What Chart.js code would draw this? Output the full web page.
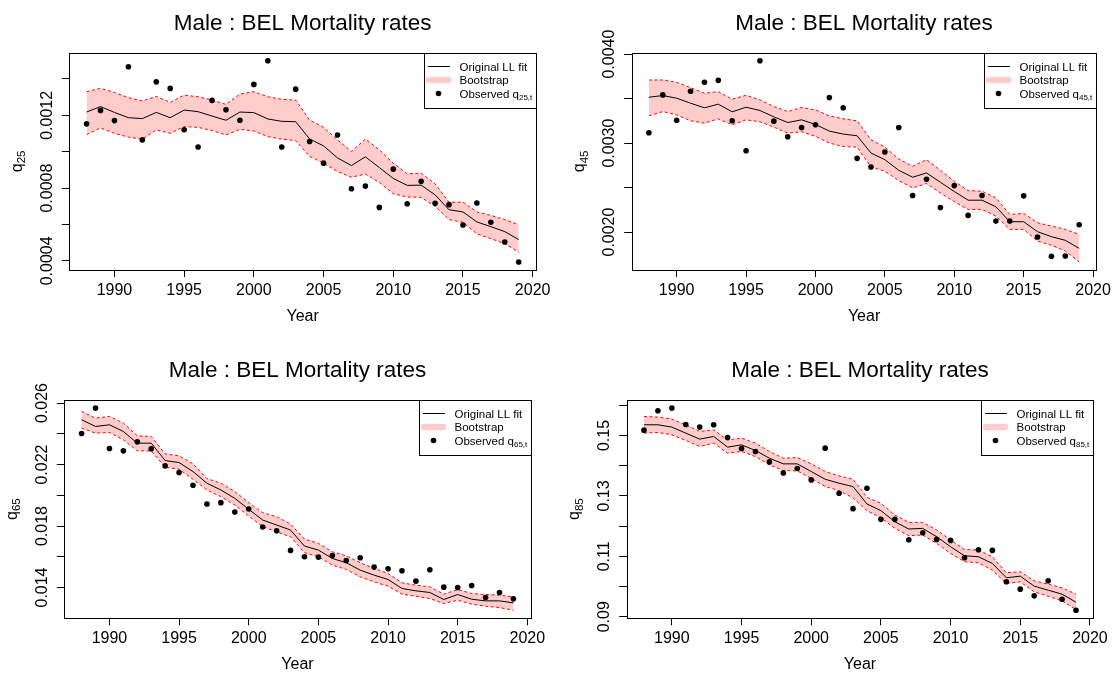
<!DOCTYPE html>
<html>
<head>
<meta charset="utf-8">
<title>Male : BEL Mortality rates</title>
<script src="https://cdn.jsdelivr.net/npm/chart.js@4.4.1/dist/chart.umd.min.js"></script>
<style>
  html, body { margin: 0; padding: 0; background: #fff; overflow: hidden; }
  #wrap { position: relative; width: 1115px; height: 673px; }
  #wrap canvas { position: absolute; }
</style>
</head>
<body>
<div id="wrap">
  <canvas id="c25" width="557" height="336" style="left:0;top:0"></canvas>
  <canvas id="c45" width="558" height="336" style="left:557px;top:0"></canvas>
  <canvas id="c65" width="557" height="337" style="left:0;top:336px"></canvas>
  <canvas id="c85" width="558" height="337" style="left:557px;top:336px"></canvas>
</div>
<script>
const FONT = '"Liberation Sans", Arial, Helvetica, sans-serif';

const years = [1988, 1989, 1990, 1991, 1992, 1993, 1994, 1995, 1996, 1997, 1998, 1999, 2000, 2001, 2002, 2003,
               2004, 2005, 2006, 2007, 2008, 2009, 2010, 2011, 2012, 2013, 2014, 2015, 2016, 2017, 2018, 2019];
const xTicks = [1990, 1995, 2000, 2005, 2010, 2015, 2020];

// age 25
const obs25 = [0.001153, 0.001227, 0.001171, 0.001467, 0.001065, 0.001384, 0.001348, 0.001121, 0.001026, 0.001282, 0.001231, 0.001173, 0.00137, 0.0015, 0.001026, 0.001344,
               0.001056, 0.000937, 0.001092, 0.000796, 0.000811, 0.000694, 0.000904, 0.000714, 0.000837, 0.000716, 0.000709, 0.000597, 0.000718, 0.000612, 0.000504, 0.000394];
const fit25 = [0.001218, 0.001248, 0.001216, 0.001187, 0.001182, 0.001216, 0.001187, 0.001229, 0.00122, 0.001196, 0.001173, 0.001218, 0.001215, 0.00118, 0.001167, 0.001165,
               0.00107, 0.001032, 0.000966, 0.000924, 0.000972, 0.000913, 0.000853, 0.000815, 0.000816, 0.000763, 0.000681, 0.000669, 0.000614, 0.000588, 0.000561, 0.000517];
const up25 = [0.00133, 0.001348, 0.001326, 0.001297, 0.001279, 0.001304, 0.001271, 0.001311, 0.001302, 0.001284, 0.00126, 0.001317, 0.00133, 0.001302, 0.001288, 0.001284,
              0.001174, 0.001134, 0.001065, 0.001001, 0.00107, 0.00101, 0.000937, 0.000879, 0.000882, 0.000824, 0.000722, 0.000723, 0.000669, 0.00065, 0.000627, 0.000599];
const lo25 = [0.001094, 0.001131, 0.001101, 0.00108, 0.001069, 0.00112, 0.001101, 0.001138, 0.001134, 0.001116, 0.001092, 0.001123, 0.001114, 0.001083, 0.001069, 0.001061,
              0.000974, 0.000937, 0.000891, 0.00086, 0.000877, 0.000831, 0.000769, 0.000751, 0.000749, 0.0007, 0.000627, 0.000612, 0.000548, 0.000522, 0.000495, 0.000448];
const yTicks25 = [0.0004, 0.0006, 0.0008, 0.0010, 0.0012, 0.0014];
const yLabels25 = ['0.0004', '', '0.0008', '', '0.0012', ''];

// age 45
const obs45 = [0.003116, 0.003541, 0.003257, 0.003582, 0.003683, 0.003705, 0.00325, 0.002914, 0.003925, 0.003246, 0.003071, 0.003175, 0.003205, 0.003511, 0.003396, 0.002828,
               0.002731, 0.002899, 0.003175, 0.00241, 0.002593, 0.002276, 0.002522, 0.002187, 0.00241, 0.002123, 0.002123, 0.002407, 0.001944, 0.001728, 0.001731, 0.002082];
const fit45 = [0.003515, 0.003534, 0.003504, 0.003448, 0.003396, 0.003437, 0.003351, 0.003403, 0.003366, 0.003295, 0.003231, 0.003261, 0.003209, 0.003134, 0.003101, 0.003082,
               0.002888, 0.002813, 0.002694, 0.002616, 0.002664, 0.00256, 0.002455, 0.002358, 0.002358, 0.002284, 0.002116, 0.002116, 0.002004, 0.001948, 0.001907, 0.001817];
const up45 = [0.003709, 0.003709, 0.003683, 0.003623, 0.00356, 0.003578, 0.003493, 0.003537, 0.003485, 0.00341, 0.003354, 0.003399, 0.003373, 0.003306, 0.003272, 0.00325,
              0.003037, 0.002955, 0.002821, 0.002739, 0.002813, 0.002694, 0.002571, 0.002466, 0.002459, 0.002384, 0.002198, 0.002209, 0.002104, 0.002067, 0.00203, 0.001974];
const lo45 = [0.003306, 0.003354, 0.003317, 0.00325, 0.003224, 0.003272, 0.003205, 0.003261, 0.003239, 0.003179, 0.003112, 0.003127, 0.003075, 0.003, 0.00296, 0.002955,
              0.002731, 0.002683, 0.002578, 0.002496, 0.002545, 0.00244, 0.00234, 0.002254, 0.002254, 0.002179, 0.00203, 0.00203, 0.001899, 0.001851, 0.001787, 0.001664];
const yTicks45 = [0.0020, 0.0025, 0.0030, 0.0035, 0.0040];
const yLabels45 = ['0.0020', '', '0.0030', '', '0.0040'];

// age 65
const obs65 = [0.024022, 0.025674, 0.023043, 0.022891, 0.023478, 0.023022, 0.021913, 0.021478, 0.020652, 0.019435, 0.019522, 0.018913, 0.019109, 0.017935, 0.017696, 0.016413,
               0.016, 0.015978, 0.016087, 0.015761, 0.015935, 0.015326, 0.015217, 0.015087, 0.014413, 0.015152, 0.014022, 0.014, 0.01413, 0.013348, 0.013674, 0.013261];
const fit65 = [0.024913, 0.024478, 0.024587, 0.024152, 0.023391, 0.023391, 0.022261, 0.02213, 0.021543, 0.020783, 0.020348, 0.019804, 0.019087, 0.018391, 0.018065, 0.017739,
               0.016696, 0.016435, 0.015891, 0.015609, 0.01513, 0.014804, 0.014522, 0.013935, 0.013783, 0.013674, 0.013217, 0.013543, 0.013239, 0.01313, 0.01313, 0.013];
const up65 = [0.025457, 0.025022, 0.02513, 0.024696, 0.02387, 0.023826, 0.022696, 0.022565, 0.022043, 0.021087, 0.020783, 0.020239, 0.019522, 0.01887, 0.018609, 0.01813,
              0.017152, 0.01687, 0.016326, 0.016065, 0.015609, 0.015239, 0.014913, 0.014304, 0.014152, 0.014043, 0.013565, 0.01387, 0.013609, 0.013543, 0.0135, 0.013391];
const lo65 = [0.02437, 0.024043, 0.024087, 0.023609, 0.022891, 0.022891, 0.021826, 0.021696, 0.021043, 0.020348, 0.019913, 0.01937, 0.018652, 0.017957, 0.01763, 0.017304,
              0.016261, 0.016, 0.015457, 0.015174, 0.014696, 0.01437, 0.014087, 0.013565, 0.013435, 0.013283, 0.012957, 0.013174, 0.012913, 0.012783, 0.012696, 0.012522];
const yTicks65 = [0.014, 0.016, 0.018, 0.020, 0.022, 0.024, 0.026];
const yLabels65 = ['0.014', '', '0.018', '', '0.022', '', '0.026'];

// age 85
const obs85 = [0.15179, 0.15821, 0.15909, 0.15367, 0.15279, 0.15356, 0.14936, 0.14571, 0.14471, 0.14128, 0.13763, 0.13907, 0.13531, 0.14582, 0.13088, 0.1258,
               0.13254, 0.12226, 0.12226, 0.11551, 0.11783, 0.11562, 0.11529, 0.10954, 0.11219, 0.11197, 0.10157, 0.09914, 0.09692, 0.1019, 0.09582, 0.09217];
const fit85 = [0.15356, 0.15356, 0.15279, 0.1508, 0.14881, 0.14969, 0.14615, 0.14692, 0.14504, 0.1425, 0.14062, 0.14062, 0.13808, 0.13553, 0.1342, 0.1331,
               0.12735, 0.12513, 0.12148, 0.11905, 0.11927, 0.1165, 0.11319, 0.1102, 0.10987, 0.10765, 0.1029, 0.10345, 0.10013, 0.09881, 0.09748, 0.09482];
const up85 = [0.15633, 0.15611, 0.15544, 0.15356, 0.15135, 0.1519, 0.14858, 0.14914, 0.14748, 0.14471, 0.1425, 0.14272, 0.14062, 0.13808, 0.13664, 0.13553,
              0.12956, 0.12757, 0.12369, 0.12126, 0.12126, 0.11872, 0.1154, 0.1123, 0.11208, 0.10987, 0.10456, 0.10489, 0.1019, 0.1008, 0.09958, 0.09748];
const lo85 = [0.1508, 0.15102, 0.15024, 0.14836, 0.14637, 0.14748, 0.14416, 0.14471, 0.14305, 0.14029, 0.13841, 0.1383, 0.13586, 0.1331, 0.13177, 0.12934,
              0.12513, 0.12281, 0.11927, 0.11684, 0.11706, 0.11429, 0.11097, 0.10821, 0.10788, 0.10544, 0.10102, 0.10157, 0.09825, 0.09681, 0.09527, 0.09239];
const yTicks85 = [0.09, 0.10, 0.11, 0.12, 0.13, 0.14, 0.15, 0.16];
const yLabels85 = ['0.09', '', '0.11', '', '0.13', '', '0.15', ''];

const BAND = 'rgba(255,0,0,0.2)';

Chart.defaults.font.family = FONT;
Chart.defaults.color = '#000';

// plot box, rotated y labels, y axis title with subscript and the legend box
function decorations(p) {
  return {
    id: 'decorations',
    afterDraw(chart) {
      const ctx = chart.ctx;
      const ca = chart.chartArea;
      const ys = chart.scales.y;
      ctx.save();

      ctx.strokeStyle = '#000';
      ctx.lineWidth = 1;
      const L = Math.round(ca.left) + 0.5, T = Math.round(ca.top) + 0.5;
      const R = Math.round(ca.right) + 0.5, B = Math.round(ca.bottom) + 0.5;
      ctx.strokeRect(L, T, R - L, B - T);

      ctx.fillStyle = '#000';
      ctx.font = '16px ' + FONT;
      ctx.textAlign = 'center';
      ctx.textBaseline = 'middle';
      p.yTicks.forEach((v, i) => {
        if (!p.yLabels[i]) return;
        ctx.save();
        ctx.translate(ca.left - 22, ys.getPixelForValue(v));
        ctx.rotate(-Math.PI / 2);
        ctx.fillText(p.yLabels[i], 0, 0);
        ctx.restore();
      });

      // y title: q with the age as subscript
      ctx.save();
      ctx.translate(ca.left - 47.5, (ca.top + ca.bottom) / 2);
      ctx.rotate(-Math.PI / 2);
      ctx.textAlign = 'left';
      ctx.textBaseline = 'alphabetic';
      ctx.font = '16px ' + FONT;
      const wq = ctx.measureText('q').width;
      ctx.font = '11.5px ' + FONT;
      const ws = ctx.measureText(p.age).width;
      const x0 = -(wq + ws) / 2;
      ctx.font = '16px ' + FONT;
      ctx.fillText('q', x0, 0);
      ctx.font = '11.5px ' + FONT;
      ctx.fillText(p.age, x0 + wq, 3.5);
      ctx.restore();

      // legend
      const bw = 112, bh = 55;
      const bx = Math.round(ca.right - bw) + 0.5, by = T;
      ctx.fillStyle = '#fff';
      ctx.fillRect(bx, by, bw, bh);
      ctx.strokeStyle = '#000';
      ctx.lineWidth = 1;
      ctx.strokeRect(bx, by, bw, bh);
      const rows = [by + 13, by + 26.5, by + 40];

      ctx.beginPath();
      ctx.moveTo(bx + 3.5, rows[0]);
      ctx.lineTo(bx + 25.5, rows[0]);
      ctx.stroke();

      ctx.save();
      ctx.strokeStyle = BAND;
      ctx.lineWidth = 6.5;
      ctx.lineCap = 'round';
      ctx.beginPath();
      ctx.moveTo(bx + 4.5, rows[1]);
      ctx.lineTo(bx + 23.5, rows[1]);
      ctx.stroke();
      ctx.restore();

      ctx.fillStyle = '#000';
      ctx.beginPath();
      ctx.arc(bx + 14, rows[2], 2.8, 0, Math.PI * 2);
      ctx.fill();

      ctx.textAlign = 'left';
      ctx.textBaseline = 'alphabetic';
      ctx.font = '11.5px ' + FONT;
      const tx = bx + 35;
      ctx.fillText('Original LL fit', tx, rows[0] + 4);
      ctx.fillText('Bootstrap', tx, rows[1] + 4);
      ctx.fillText('Observed q', tx, rows[2] + 4);
      const wo = ctx.measureText('Observed q').width;
      ctx.font = '8px ' + FONT;
      ctx.fillText(p.age + ',t', tx + wo, rows[2] + 6.5);

      ctx.restore();
    }
  };
}

function makeChart(p) {
  const canvas = document.getElementById(p.id);
  const W = canvas.width, H = canvas.height;
  const a = p.area;
  const all = p.obs.concat(p.up, p.lo);
  const yMin = Math.min(...all), yMax = Math.max(...all);
  const yPad = 0.04 * (yMax - yMin);
  const xPad = 0.04 * (years[years.length - 1] - years[0]);
  const pts = arr => years.map((yr, i) => ({ x: yr, y: arr[i] }));

  new Chart(canvas, {
    type: 'line',
    data: {
      datasets: [
        { label: 'Observed', data: pts(p.obs), showLine: false, borderColor: '#000',
          pointRadius: 2.8, pointBackgroundColor: '#000', pointBorderWidth: 0, order: 0 },
        { label: 'Original LL fit', data: pts(p.fit), borderColor: '#000', borderWidth: 1,
          pointRadius: 0, order: 1 },
        { label: 'Bootstrap upper', data: pts(p.up), borderColor: '#ff0000', borderWidth: 1,
          borderDash: [3, 2.5], pointRadius: 0, fill: '+1', backgroundColor: BAND, order: 2 },
        { label: 'Bootstrap lower', data: pts(p.lo), borderColor: '#ff0000', borderWidth: 1,
          borderDash: [3, 2.5], pointRadius: 0, fill: false, order: 3 }
      ]
    },
    options: {
      responsive: false,
      animation: false,
      devicePixelRatio: 1,
      layout: { padding: { left: 0, right: W - a.right, top: 0, bottom: 0 } },
      plugins: {
        legend: { display: false },
        tooltip: { enabled: false },
        filler: { drawTime: 'beforeDatasetsDraw' },
        title: {
          display: true,
          text: 'Male : BEL Mortality rates',
          fullSize: false,
          color: '#000',
          font: { family: FONT, size: 22.5, weight: 'normal', lineHeight: 1.2 },
          padding: { top: p.titleY - 13.5, bottom: a.top - p.titleY - 13.5 }
        }
      },
      scales: {
        x: {
          type: 'linear',
          min: years[0] - xPad,
          max: years[years.length - 1] + xPad,
          afterBuildTicks: s => { s.ticks = xTicks.map(v => ({ value: v })); },
          afterFit: s => { s.height = H - a.bottom; },
          ticks: { color: '#000', font: { family: FONT, size: 16 }, padding: 4, maxRotation: 0,
                   autoSkip: false, callback: v => String(v) },
          grid: { drawOnChartArea: false, drawTicks: true, tickLength: 7, color: '#000' },
          border: { display: false },
          title: { display: true, text: 'Year', color: '#000',
                   font: { family: FONT, size: 16, lineHeight: 1 },
                   padding: { top: 0, bottom: H - 8 - (a.bottom + 46.7) } }
        },
        y: {
          min: yMin - yPad,
          max: yMax + yPad,
          afterBuildTicks: s => { s.ticks = p.yTicks.map(v => ({ value: v })); },
          afterFit: s => { s.width = a.left; },
          ticks: { display: false },
          grid: { drawOnChartArea: false, drawTicks: true, tickLength: 7.5, color: '#000' },
          border: { display: false }
        }
      }
    },
    plugins: [decorations(p)]
  });
}

const panels = [
  { id: 'c25', age: '25', obs: obs25, fit: fit25, up: up25, lo: lo25, yTicks: yTicks25, yLabels: yLabels25,
    area: { left: 69.3, right: 536, top: 52.7, bottom: 270 }, titleY: 23.4 },
  { id: 'c45', age: '45', obs: obs45, fit: fit45, up: up45, lo: lo45, yTicks: yTicks45, yLabels: yLabels45,
    area: { left: 74.7, right: 540.7, top: 52.7, bottom: 270 }, titleY: 23.4 },
  { id: 'c65', age: '65', obs: obs65, fit: fit65, up: up65, lo: lo65, yTicks: yTicks65, yLabels: yLabels65,
    area: { left: 64.3, right: 530.7, top: 64, bottom: 282.3 }, titleY: 34.7 },
  { id: 'c85', age: '85', obs: obs85, fit: fit85, up: up85, lo: lo85, yTicks: yTicks85, yLabels: yLabels85,
    area: { left: 69.7, right: 536.3, top: 64, bottom: 282.3 }, titleY: 34.7 }
];

panels.forEach(makeChart);
</script>
</body>
</html>
